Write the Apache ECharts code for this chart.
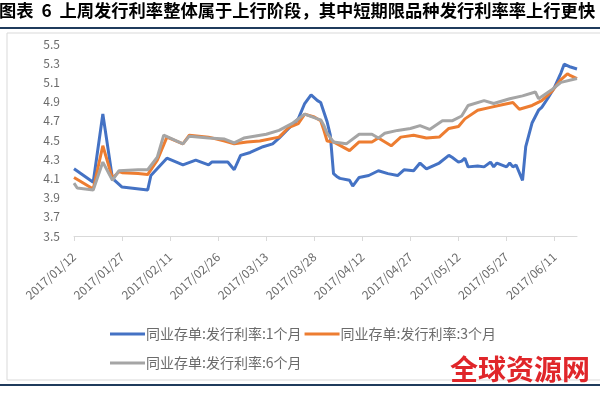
<!DOCTYPE html>
<html>
<head>
<meta charset="utf-8">
<script src="https://cdn.jsdelivr.net/npm/echarts@6/dist/echarts.min.js"></script>
<style>html,body{margin:0;padding:0;background:#fff;}#c{width:600px;height:394px;}</style>
</head>
<body>
<div id="c"></div>
<script>
// Series names
const seriesNames = ['同业存单:发行利率:1个月', '同业存单:发行利率:3个月', '同业存单:发行利率:6个月'];
// Y-axis ticks
const yMin = 3.5, yMax = 5.5, yStep = 0.2;
// Calendar days on the category axis (2017/01/12 .. 2017/06/18)
const firstDay = '2017-01-12', lastDay = '2017-06-18';
// Values: [MM/DD, value]
const rate1M = [['01/12',4.20],['01/18',4.06],['01/21',4.77],['01/24',4.10],['01/27',4.01],['02/04',3.98],['02/05',4.13],['02/10',4.31],['02/15',4.24],['02/19',4.29],['02/23',4.24],['02/24',4.27],['03/01',4.27],['03/03',4.19],['03/05',4.34],['03/08',4.37],['03/12',4.43],['03/15',4.46],['03/17',4.52],['03/20',4.62],['03/23',4.72],['03/25',4.88],['03/27',4.97],['03/29',4.91],['03/30',4.89],['04/01',4.69],['04/02',4.55],['04/03',4.15],['04/04',4.12],['04/05',4.10],['04/08',4.08],['04/09',4.02],['04/11',4.11],['04/14',4.13],['04/17',4.18],['04/20',4.15],['04/23',4.13],['04/25',4.19],['04/28',4.18],['04/30',4.26],['05/02',4.20],['05/06',4.26],['05/09',4.34],['05/10',4.32],['05/12',4.27],['05/13',4.28],['05/14',4.31],['05/15',4.22],['05/18',4.23],['05/20',4.22],['05/22',4.27],['05/23',4.22],['05/24',4.26],['05/27',4.22],['05/28',4.26],['05/29',4.22],['05/30',4.24],['06/01',4.08],['06/02',4.43],['06/04',4.68],['06/06',4.81],['06/07',4.84],['06/09',4.94],['06/11',5.05],['06/13',5.20],['06/14',5.29],['06/16',5.26],['06/18',5.24]];
const rate3M = [['01/12',4.11],['01/18',3.99],['01/21',4.44],['01/24',4.10],['01/26',4.17],['01/27',4.16],['02/01',4.15],['02/04',4.14],['02/07',4.29],['02/10',4.53],['02/15',4.46],['02/17',4.55],['02/23',4.53],['02/28',4.49],['03/03',4.46],['03/07',4.48],['03/11',4.49],['03/17',4.53],['03/20',4.63],['03/23',4.67],['03/25',4.77],['03/28',4.74],['03/30',4.70],['03/31',4.60],['04/01',4.49],['04/03',4.48],['04/08',4.39],['04/11',4.48],['04/15',4.48],['04/17',4.52],['04/21',4.44],['04/24',4.53],['04/28',4.55],['05/02',4.52],['05/06',4.53],['05/09',4.62],['05/12',4.64],['05/14',4.72],['05/18',4.81],['05/22',4.84],['05/26',4.87],['05/29',4.89],['05/31',4.82],['06/04',4.86],['06/07',4.91],['06/10',5.00],['06/13',5.13],['06/15',5.19],['06/16',5.17],['06/18',5.14]];
const rate6M = [['01/12',4.05],['01/13',4.00],['01/18',3.98],['01/21',4.27],['01/24',4.08],['01/26',4.18],['02/01',4.19],['02/04',4.19],['02/07',4.32],['02/09',4.55],['02/15',4.46],['02/17',4.54],['02/23',4.52],['02/28',4.51],['03/03',4.47],['03/06',4.52],['03/13',4.56],['03/17',4.60],['03/21',4.67],['03/25',4.77],['03/29',4.72],['03/30',4.71],['03/31',4.65],['04/01',4.57],['04/03',4.48],['04/07',4.46],['04/11',4.56],['04/15',4.56],['04/17',4.52],['04/19',4.57],['04/23',4.60],['04/27',4.62],['04/30',4.65],['05/03',4.61],['05/07',4.70],['05/10',4.70],['05/13',4.75],['05/15',4.86],['05/20',4.91],['05/23',4.88],['05/28',4.93],['06/01',4.96],['06/05',5.00],['06/06',4.93],['06/10',5.02],['06/13',5.10],['06/18',5.14]];

function pad(n){return (n<10?'0':'')+n;}
const categories = [];
for (let t = Date.parse(firstDay+'T00:00:00Z'); t <= Date.parse(lastDay+'T00:00:00Z'); t += 86400000) {
  const d = new Date(t);
  categories.push(d.getUTCFullYear()+'/'+pad(d.getUTCMonth()+1)+'/'+pad(d.getUTCDate()));
}
const toSeries = arr => arr.map(p => ['2017/'+p[0], p[1]]);

const colors = ['#4472C4', '#ED7D31', '#A5A5A5'];
const font = '"Noto Sans CJK SC", "Noto Sans", sans-serif';
const chart = echarts.init(document.getElementById('c'), null, {renderer:'canvas'});
chart.setOption({
  animation: false,
  color: colors,
  textStyle: {fontFamily: font},
  grid: {left: 74, right: 23, top: 44, bottom: 158},
  graphic: [
    {type:'rect', shape:{x:7, y:33, width:600, height:347}, style:{fill:'none', stroke:'#d9d9d9', lineWidth:1}, silent:true},
    {type:'rect', shape:{x:0, y:27, width:600, height:2}, style:{fill:'#1f3b5c'}, silent:true},
    {type:'rect', shape:{x:0, y:384, width:600, height:2}, style:{fill:'#1f3b5c'}, silent:true},
    {type:'text', left:-1, top:2, style:{text:'图表  6  上周发行利率整体属于上行阶段，其中短期限品种发行利率率上行更快', font:'bold 17.3px '+font, fill:'#000'}, silent:true},
    {type:'text', right:10, top:355, style:{text:'全球资源网', font:'bold 28px '+font, fill:'#e0262a'}, silent:true}
  ],
  legend: [
    {data: [seriesNames[0], seriesNames[1]], left: 105, top: 322, icon: 'rect', itemWidth: 35, itemHeight: 3, itemGap: 3,
     textStyle: {color:'#6b6b6b', fontSize: 14, padding:[0,0,0,-4]}},
    {data: [seriesNames[2]], left: 105, top: 351, icon: 'rect', itemWidth: 35, itemHeight: 3, itemGap: 3,
     textStyle: {color:'#6b6b6b', fontSize: 14, padding:[0,0,0,-4]}}
  ],
  xAxis: {
    type: 'category', data: categories, boundaryGap: false,
    axisLine: {lineStyle: {color:'#d9d9d9'}},
    axisTick: {show: true, interval: 14, length: 5, lineStyle:{color:'#d9d9d9'}},
    axisLabel: {interval: 14, rotate: 42, color:'#6b6b6b', fontSize: 12, margin: 19}
  },
  yAxis: {
    type: 'value', min: yMin, max: yMax, interval: yStep,
    axisLine: {show:false}, axisTick: {show:false}, splitLine: {show:false},
    axisLabel: {color:'#6b6b6b', fontSize: 12, margin: 14, formatter: v => v.toFixed(1)}
  },
  series: [rate1M, rate3M, rate6M].map((arr, i) => ({
    name: seriesNames[i], type: 'line', data: toSeries(arr), showSymbol: false, symbol: 'none',
    connectNulls: true, lineStyle: {width: 3, color: colors[i]}, itemStyle: {color: colors[i]}
  }))
});
</script>
</body>
</html>
